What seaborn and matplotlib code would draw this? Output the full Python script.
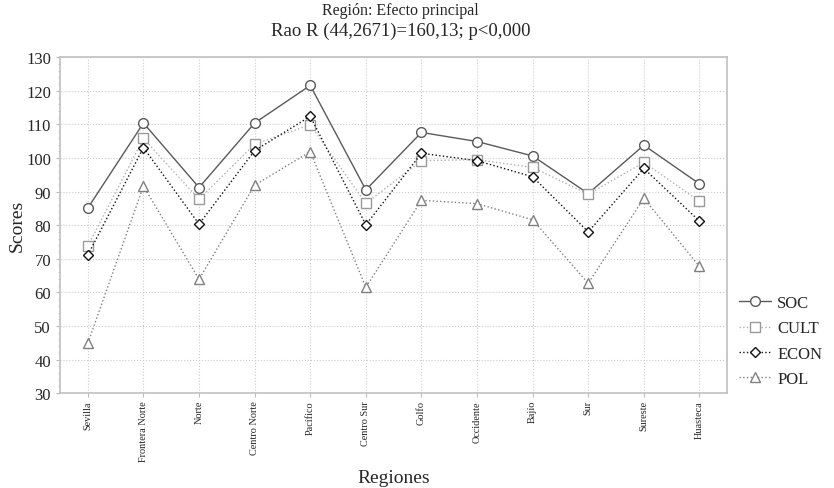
import matplotlib
matplotlib.use("Agg")
import matplotlib.pyplot as plt
import seaborn as sns
import pandas as pd
from matplotlib.ticker import MultipleLocator

regiones = ["Sevilla", "Frontera Norte", "Norte", "Centro Norte", "Pacífico",
            "Centro Sur", "Golfo", "Occidente", "Bajío", "Sur", "Sureste", "Huasteca"]
soc = [85.1, 110.4, 91.2, 110.4, 121.6, 90.5, 107.6, 104.9, 100.6, 89.4, 103.8, 92.3]
cult = [73.8, 105.8, 87.7, 104.1, 109.9, 86.5, 99.2, 99.5, 97.2, 89.2, 98.7, 87.1]
econ = [71.1, 103.1, 80.3, 102.2, 112.4, 80.1, 101.4, 99.2, 94.4, 78.0, 96.9, 81.2]
pol = [44.9, 91.6, 63.9, 91.9, 101.9, 61.5, 87.4, 86.4, 81.6, 62.7, 88.0, 67.7]

series = {"SOC": soc, "CULT": cult, "ECON": econ, "POL": pol}
estilos = {
    "SOC": dict(color="#5a5a5a", linestyle="-", marker="o", mec="#5a5a5a", ms=7, lw=1.0),
    "CULT": dict(color="#b0b0b0", linestyle=":", marker="s", mec="#9a9a9a", ms=7, lw=1.0),
    "ECON": dict(color="#111111", linestyle=":", marker="D", mec="#111111", ms=5.5, lw=1.0),
    "POL": dict(color="#808080", linestyle=":", marker="^", mec="#808080", ms=7, lw=1.0),
}

sns.set_style("whitegrid")
plt.rcParams["font.family"] = ["Liberation Serif", "DejaVu Serif"]

fig = plt.figure(figsize=(8.34, 4.89), dpi=100)
ax = fig.add_axes([0.072, 0.194, 0.8, 0.687])

for nombre, valores in series.items():
    df = pd.DataFrame({"Region": range(len(regiones)), "Score": valores})
    st = estilos[nombre]
    sns.lineplot(data=df, x="Region", y="Score", ax=ax, label=nombre,
                 color=st["color"], linestyle=st["linestyle"], lw=st["lw"],
                 marker=st["marker"], markersize=st["ms"], markerfacecolor="white",
                 markeredgecolor=st["mec"], markeredgewidth=1.0)

ax.set_xlim(-0.5, len(regiones) - 0.5)
ax.set_ylim(30, 130)
ax.set_xticks(range(len(regiones)))
ax.set_xticklabels(regiones, rotation=90, fontsize=7.4)
ax.yaxis.set_major_locator(MultipleLocator(10))
ax.yaxis.set_minor_locator(MultipleLocator(2))
ax.tick_params(axis="y", labelsize=12, length=3, which="major", left=True, color="#bbbbbb")
ax.tick_params(axis="y", which="minor", length=1.5, left=True, color="#bbbbbb")
ax.tick_params(axis="x", length=3, bottom=True, color="#bbbbbb", pad=2)
ax.grid(True, which="major", linestyle=":", color="#cccccc", lw=0.8)
ax.grid(False, which="minor")
for sp in ax.spines.values():
    sp.set_color("#c0c0c0")
    sp.set_linewidth(1.2)

ax.set_xlabel("Regiones", fontsize=14, labelpad=6)
ax.set_ylabel("Scores", fontsize=14, labelpad=0)

fig.text(0.48, 0.977, "Región: Efecto principal", ha="center", va="center", fontsize=11.5)
fig.text(0.48, 0.935, "Rao R (44,2671)=160,13; p<0,000", ha="center", va="center", fontsize=13.5)

ax.legend(loc="center left", bbox_to_anchor=(1.0, 0.155), frameon=False,
          fontsize=12, handlelength=1.9, labelspacing=0.55, handletextpad=0.4,
          borderaxespad=0.3)

fig.savefig("out.png", dpi=100)
